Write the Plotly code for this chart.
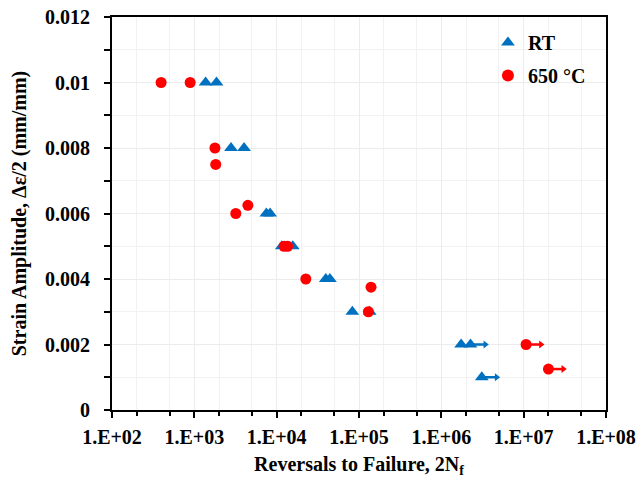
import plotly.graph_objects as go

# RT data (reversals to failure, strain amplitude)
rt_n = [1370, 1860, 2790, 4020, 7500, 8320, 11550, 15700, 39500, 44300, 83000, 135000, 1.74e6, 2.26e6, 3.1e6]
rt_s = [0.010, 0.010, 0.008, 0.008, 0.006, 0.006, 0.005, 0.005, 0.004, 0.004, 0.003, 0.003, 0.002, 0.002, 0.001]
# RT run-outs (index into rt arrays)
rt_runout = [13, 14]

# 650 °C data
ht_n = [395, 890, 1780, 1820, 3190, 4470, 12300, 13600, 22600, 140000, 130000, 1.07e7, 2.0e7]
ht_s = [0.010, 0.010, 0.008, 0.0075, 0.006, 0.00625, 0.005, 0.005, 0.004, 0.00375, 0.003, 0.002, 0.00125]
ht_runout = [11, 12]

x_tickvals = [1e2, 1e3, 1e4, 1e5, 1e6, 1e7, 1e8]
x_ticktext = ["1.E+02", "1.E+03", "1.E+04", "1.E+05", "1.E+06", "1.E+07", "1.E+08"]

BLUE = "#0070C0"
RED = "#FF0000"
FONT = "Liberation Serif"

fig = go.Figure()

# run-out arrows (drawn first so markers sit on top)
arrow_dec = 0.21
for idx_list, xs, ys, col in [(rt_runout, rt_n, rt_s, BLUE), (ht_runout, ht_n, ht_s, RED)]:
    for i in idx_list:
        x0 = xs[i]
        x1 = x0 * 10 ** arrow_dec
        fig.add_trace(go.Scatter(x=[x0, x1 / 10 ** 0.03], y=[ys[i], ys[i]], mode="lines",
                                 line=dict(color=col, width=2.5), showlegend=False,
                                 hoverinfo="skip"))
        fig.add_trace(go.Scatter(x=[x1 / 10 ** 0.03], y=[ys[i]], mode="markers",
                                 marker=dict(symbol="triangle-right", size=7, color=col),
                                 showlegend=False, hoverinfo="skip"))

fig.add_trace(go.Scatter(x=rt_n, y=rt_s, mode="markers", name="RT", legendgroup="rt",
                         marker=dict(symbol="triangle-up", size=12, color=BLUE)))
fig.add_trace(go.Scatter(x=ht_n, y=ht_s, mode="markers", name="650 °C", legendgroup="ht",
                         marker=dict(symbol="circle", size=11, color=RED)))

fig.update_layout(
    width=639, height=481,
    margin=dict(l=112, r=33, t=17, b=71, autoexpand=False),
    paper_bgcolor="white", plot_bgcolor="white",
    font=dict(family=FONT, size=20, color="black"),
    showlegend=True,
    legend=dict(x=0.761, y=0.985, xanchor="left", yanchor="top",
                font=dict(family=FONT, size=20, color="black", weight="bold"),
                bgcolor="rgba(255,255,255,0)", itemsizing="constant",
                itemwidth=30, tracegroupgap=4),
)

fig.update_xaxes(
    type="log", range=[2, 8], automargin=False, ticklabeloverflow="allow",
    tickvals=x_tickvals, ticktext=x_ticktext,
    tickfont=dict(family=FONT, size=20, color="black", weight="bold"),
    ticks="outside", ticklen=6, tickwidth=1.5, tickcolor="black", ticklabelstandoff=2,
    showline=True, linecolor="black", linewidth=2, mirror=True,
    showgrid=True, gridcolor="#ececec", gridwidth=1,
    minor=dict(ticks="outside", ticklen=4, tickcolor="black", showgrid=True, gridcolor="#f2f2f2"),
    zeroline=False,
    title=dict(text="Reversals to Failure, 2N<sub>f</sub>",
               font=dict(family=FONT, size=20, color="black", weight="bold"), standoff=10),
)
fig.update_yaxes(
    range=[0, 0.012], dtick=0.002, tick0=0, automargin=False, ticklabeloverflow="allow",
    tickfont=dict(family=FONT, size=20, color="black", weight="bold"),
    ticks="outside", ticklen=6, tickwidth=1.5, tickcolor="black", ticklabelstandoff=10,
    showline=True, linecolor="black", linewidth=2, mirror=True,
    showgrid=True, gridcolor="#ececec", gridwidth=1,
    minor=dict(dtick=0.001, ticks="outside", ticklen=6, tickcolor="black", showgrid=True, gridcolor="#f2f2f2"),
    zeroline=False,
    title=dict(text="Strain Amplitude, Δε/2 (mm/mm)",
               font=dict(family=FONT, size=20, color="black", weight="bold"), standoff=13),
)

fig.write_html("out.html", config={"displayModeBar": False},
               post_script="document.body.style.margin='0';")
